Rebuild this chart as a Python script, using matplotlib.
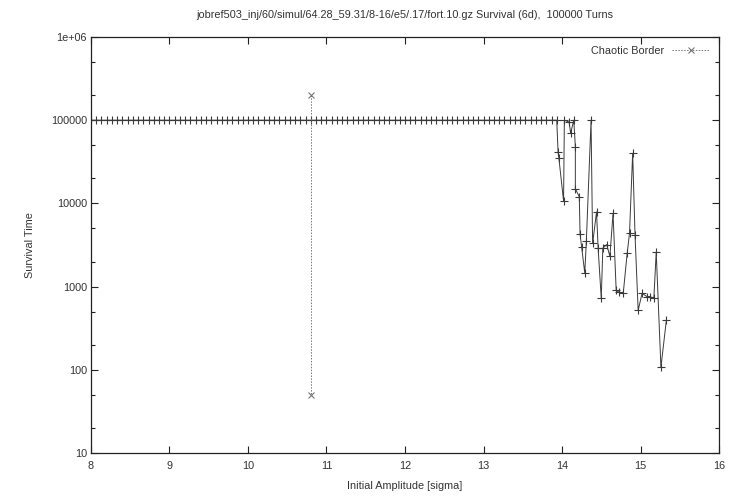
"""
Survival time vs initial amplitude (gnuplot-style DA plot) recreated with matplotlib.
"""

import matplotlib
matplotlib.use("Agg")
import matplotlib.pyplot as plt
from matplotlib.ticker import FixedLocator, NullFormatter

# Stable region: every amplitude survives the full 100000 turns
amp_stable = [
    8.000, 8.067, 8.133, 8.200, 8.267, 8.333, 8.400, 8.467, 8.533, 8.600, 8.667, 8.733, 8.800, 8.867, 8.933,
    9.000, 9.067, 9.133, 9.200, 9.267, 9.333, 9.400, 9.467, 9.533, 9.600, 9.667, 9.733, 9.800, 9.867, 9.933,
    10.000, 10.067, 10.133, 10.200, 10.267, 10.333, 10.400, 10.467, 10.533, 10.600, 10.667, 10.733, 10.800, 10.867, 10.933,
    11.000, 11.067, 11.133, 11.200, 11.267, 11.333, 11.400, 11.467, 11.533, 11.600, 11.667, 11.733, 11.800, 11.867, 11.933,
    12.000, 12.067, 12.133, 12.200, 12.267, 12.333, 12.400, 12.467, 12.533, 12.600, 12.667, 12.733, 12.800, 12.867, 12.933,
    13.000, 13.067, 13.133, 13.200, 13.267, 13.333, 13.400, 13.467, 13.533, 13.600, 13.667, 13.733, 13.800, 13.867, 13.933,
]
surv_stable = [100000] * len(amp_stable)

# Chaotic region
amp_chaotic = [
    13.95, 13.96, 14.02, 14.03, 14.09, 14.11, 14.15, 14.17, 14.17, 14.22,
    14.23, 14.25, 14.29, 14.31, 14.37, 14.39, 14.44, 14.46, 14.50, 14.52,
    14.57, 14.61, 14.65, 14.69, 14.73, 14.78, 14.83, 14.86, 14.90, 14.93,
    14.97, 15.02, 15.08, 15.12, 15.17, 15.20, 15.26, 15.33,
]
surv_chaotic = [
    41000, 35000, 10700, 100000, 95000, 70000, 100000, 48000, 15000, 12000,
    4300, 3000, 1450, 3500, 100000, 3300, 7900, 2900, 720, 2900,
    3200, 2300, 7600, 900, 850, 830, 2500, 4400, 40000, 4200,
    520, 830, 760, 760, 720, 2600, 107, 400,
]

# Chaotic border marker pair
border_amp = [10.8, 10.8]
border_surv = [200000, 50]

title = "jobref503_inj/60/simul/64.28_59.31/8-16/e5/.17/fort.10.gz Survival (6d),  100000 Turns"
y_ticks = [10, 100, 1000, 10000, 100000, 1000000]
y_tick_labels = ["10", "100", "1000", "10000", "100000", "1e+06"]
x_ticks = [8, 9, 10, 11, 12, 13, 14, 15, 16]

plt.rcParams['font.family'] = ['Liberation Sans', 'DejaVu Sans']
plt.rcParams['font.size'] = 7.8

fig = plt.figure(figsize=(7.29, 4.98), dpi=100)
ax = fig.add_axes([0.1248, 0.0904, 0.8615, 0.8353])

amps = amp_stable + amp_chaotic
survs = surv_stable + surv_chaotic
ax.plot(amps, survs, color='#3a3a3a', linewidth=0.7, marker='+',
        markersize=5.5, markeredgewidth=0.8)

ax.plot(border_amp, border_surv, color='#777777', linewidth=0.7,
        linestyle=(0, (1.5, 1.5)), marker='x', markersize=5,
        markeredgewidth=0.8, label='Chaotic Border')

ax.set_yscale('log')
ax.set_xlim(8, 16)
ax.set_ylim(10, 1e6)

ax.yaxis.set_major_locator(FixedLocator(y_ticks))
ax.set_yticklabels(y_tick_labels)
minor = [m * 10 ** e for e in range(1, 6) for m in (2, 5)]
ax.yaxis.set_minor_locator(FixedLocator(minor))
ax.yaxis.set_minor_formatter(NullFormatter())
ax.set_xticks(x_ticks)
ax.set_xticklabels([str(v) for v in x_ticks])

ax.tick_params(which='both', direction='in', top=True, right=True,
               colors='#222222', labelcolor='#333333', width=0.8)
ax.tick_params(which='major', length=5)
ax.tick_params(axis='y', which='major', pad=3)
ax.tick_params(axis='x', which='major', pad=6)
ax.tick_params(which='minor', length=3)
for s in ax.spines.values():
    s.set_linewidth(0.9)
    s.set_color('#222222')

ax.set_xlabel('Initial Amplitude [sigma]', color='#333333', labelpad=7)
ax.set_ylabel('Survival Time', color='#333333', labelpad=11)
ax.set_title(title, color='#333333', fontsize=7.8, pad=14)

ax.legend(loc='upper right', frameon=False, markerfirst=False,
          handlelength=3.5, borderaxespad=0.4, labelcolor='#333333')

fig.savefig('out.png', dpi=100)
